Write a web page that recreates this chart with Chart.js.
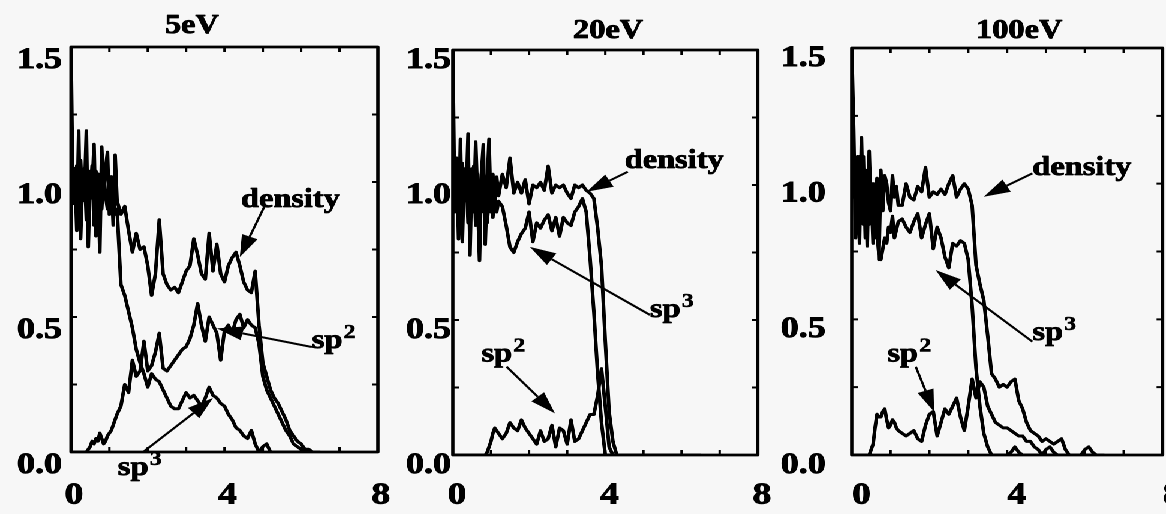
<!DOCTYPE html>
<html><head><meta charset="utf-8">
<script src="https://cdn.jsdelivr.net/npm/chart.js@4.4.1/dist/chart.umd.min.js"></script>
<style>
html,body{margin:0;padding:0;background:#f7f7f7;overflow:hidden;width:1166px;height:514px;}
#wrap{position:absolute;left:0;top:0;width:972px;height:514px;transform:scaleX(1.19959);transform-origin:0 0;}
#wrap canvas{position:absolute;left:0;top:0;}
</style></head><body>
<div id="wrap">
<canvas id="c1" width="972" height="514"></canvas>
<canvas id="c2" width="972" height="514"></canvas>
<canvas id="c3" width="972" height="514"></canvas>
</div>
<script>
// ---- data ----
const xValues = [0,0.05,0.1,0.15,0.2,0.25,0.3,0.35,0.4,0.45,0.5,0.55,0.6,0.65,0.7,0.75,0.8,0.85,0.9,0.95,1.0,1.05,1.1,1.15,1.2,
  1.3,1.4,1.5,1.6,1.7,1.8,1.9,2.0,2.1,2.2,2.3,2.4,2.5,2.6,2.7,2.8,2.9,3.0,3.1,3.2,3.3,3.4,3.5,3.6,3.7,3.8,3.9,
  4.0,4.1,4.2,4.3,4.4,4.5,4.6,4.7,4.8,4.9,5.0,5.1,5.2,5.3,5.4,5.5,5.6,5.7,5.8,5.9,6.0,6.1,6.2,6.3,6.4,6.5];

const titles = ['5eV','20eV','100eV'];
const xTickLabels = ['0','4','8'];
const yTickLabels = ['0.0','0.5','1.0','1.5'];

// 5 eV
const density5 = [1.5,0.92,1.05,0.82,1.19,0.79,1.02,0.95,1.19,0.76,1.04,0.97,1.14,0.80,1.03,0.74,1.13,0.95,1.05,1.11,0.88,1.02,0.84,1.10,0.93,
  0.88,0.91,0.82,0.74,0.81,0.75,0.76, 0.69,0.58,0.66,0.86,0.66,0.62,0.60,0.61,0.59,0.63,
  0.67,0.69,0.79,0.73,0.66,0.64,0.81,0.67,0.77,0.66, 0.63,0.69,0.72,0.74,0.69,0.63,0.60,0.59,0.67,0.47,
  0.33,0.28,0.23,0.20,0.18,0.15,0.12,0.08,0.06,0.04, 0.03,0.01,0.01,0,0,0];
const sp2_5 = [0,0,0,0,0,0,0,0,0,0.01,0.02,0.04,0.03,0.05,0.04,0.07,0.05,0.03,0.04,0.06,0.07,0.08,0.10,0.12,0.14,
  0.17,0.25,0.22,0.34,0.28,0.30,0.41, 0.30,0.32,0.37,0.44,0.31,0.30,0.32,0.34,0.36,0.38,
  0.39,0.42,0.47,0.55,0.47,0.41,0.50,0.47,0.44,0.34, 0.45,0.47,0.44,0.49,0.51,0.46,0.49,0.47,0.46,0.40,
  0.28,0.23,0.20,0.17,0.14,0.11,0.08,0.06,0.03,0.02, 0.01,0,0,0,0,0];
const sp3_5 = [1.05,1.0,0.97,1.06,0.88,1.08,0.93,1.05,0.86,1.01,0.94,1.06,0.84,1.04,0.92,1.0,0.9,1.03,0.95,0.9,1.0,0.9,0.96,0.88,0.9,
  0.62,0.58,0.52,0.46,0.38,0.33,0.29, 0.24,0.29,0.27,0.26,0.23,0.20,0.17,0.16,0.16,0.19,
  0.22,0.20,0.21,0.19,0.17,0.20,0.24,0.21,0.20,0.18, 0.17,0.14,0.12,0.09,0.08,0.06,0.05,0.08,0.03,0,
  0.02,0.03,0,0,0,0,0,0,0,0, 0,0,0,0,0,0];

// 20 eV
const density20 = [1.5,0.9,1.1,0.8,1.17,0.79,1.06,0.95,1.19,0.74,1.06,0.9,1.16,0.95,0.72,1.04,1.15,0.78,1.0,1.17,0.9,1.04,0.93,1.03,0.96,
  1.04,0.99,1.10,0.97,1.01,0.97,1.02, 0.93,1.0,0.99,1.01,0.98,1.07,0.97,1.0,0.99,1.0,
  0.97,0.95,1.0,0.99,1.0,0.98,0.97,0.95,0.84,0.70, 0.42,0.16,0.05,0,0,0,0,0,0,0,
  0,0,0,0,0,0,0,0,0,0, 0,0,0,0,0,0];
const sp2_20 = [0,0,0,0,0,0,0,0,0,0,0,0,0,0,0,0,0,0,0.01,0.03,0.05,0.08,0.10,0.09,0.08,
  0.06,0.08,0.12,0.10,0.09,0.13,0.10, 0.08,0.06,0.04,0.09,0.05,0.06,0.11,0.03,0.10,0.09,
  0.04,0.13,0.05,0.06,0.09,0.12,0.15,0.15,0.22,0.32, 0.18,0.03,0,0,0,0,0,0,0,0,
  0,0,0,0,0,0,0,0,0,0, 0,0,0,0,0,0];
const sp3_20 = [1.05,1.0,0.95,1.05,0.88,1.08,0.94,1.05,0.86,1.0,0.93,1.07,0.85,1.04,0.95,0.9,0.98,1.03,0.86,0.95,1.0,0.88,0.97,0.9,0.94,
  0.92,0.85,0.77,0.75,0.79,0.82,0.84, 0.90,0.79,0.86,0.84,0.87,0.89,0.83,0.88,0.81,0.88,
  0.86,0.85,0.90,0.92,0.95,0.90,0.73,0.53,0.30,0.12, 0,0,0,0,0,0,0,0,0,0,
  0,0,0,0,0,0,0,0,0,0, 0,0,0,0,0,0];

// 100 eV
const density100 = [1.5,1.2,0.8,1.1,0.78,1.17,0.85,1.05,0.77,1.12,0.88,1.0,0.8,1.02,0.72,1.05,0.9,1.03,1.0,0.93,0.9,1.03,0.95,0.99,0.92,
  0.92,1.0,0.95,0.94,0.99,0.97,1.06, 0.95,0.97,0.96,0.98,0.96,1.0,1.03,0.95,0.98,1.0,
  0.98,0.92,0.70,0.63,0.57,0.44,0.30,0.28,0.25,0.26, 0.25,0.27,0.28,0.20,0.17,0.12,0.09,0.08,0.07,0.05,
  0.06,0.05,0.04,0.05,0.06,0.02,0,0,0,0, 0,0,0,0,0,0];
const sp2_100 = [0,0,0,0,0,0,0,0,0,0,0.02,0.04,0.10,0.15,0.14,0.14,0.16,0.17,0.13,0.10,0.11,0.13,0.12,0.10,0.09,
  0.08,0.07,0.08,0.09,0.06,0.05,0.11, 0.15,0.16,0.07,0.12,0.17,0.15,0.18,0.21,0.14,0.09,
  0.18,0.28,0.21,0.27,0.25,0.18,0.15,0.12,0.11,0.10, 0.10,0.09,0.08,0.07,0.07,0.05,0.05,0.03,0.02,0,
  0.02,0.03,0.01,0,0,0,0,0,0,0, 0.02,0.03,0.01,0,0,0];
const sp3_100 = [1.1,0.95,1.05,0.85,1.1,0.9,1.1,0.8,1.0,0.85,0.98,0.78,0.95,0.82,0.74,0.72,0.76,0.8,0.78,0.84,0.82,0.88,0.8,0.83,0.86,
  0.87,0.84,0.82,0.86,0.89,0.80,0.85, 0.89,0.76,0.84,0.80,0.73,0.69,0.78,0.77,0.79,0.78,
  0.72,0.55,0.32,0.18,0.08,0.03,0,0,0,0, 0,0.01,0.03,0.01,0,0,0,0,0,0,
  0,0,0,0,0,0,0,0,0,0, 0,0,0,0,0,0];

// ---- rendering ----
const FONT = "'Liberation Serif','Times New Roman',serif";

function boldText(ctx, s, x, y, sw) {
  ctx.lineWidth = sw;
  ctx.strokeText(s, x, y);
  ctx.fillText(s, x, y);
}

const decorPlugin = {
  id: 'decor',
  afterDraw(chart, args, opts) {
    const ctx = chart.ctx, a = chart.chartArea, xs = chart.scales.x, ys = chart.scales.y;
    ctx.save();
    ctx.strokeStyle = '#000'; ctx.fillStyle = '#000';
    ctx.lineJoin = 'round';
    const tl = 5;
    ctx.lineWidth = 2;
    ctx.beginPath();
    xs.ticks.forEach(t => { const p = xs.getPixelForValue(t.value);
      ctx.moveTo(p, a.bottom); ctx.lineTo(p, a.bottom - tl); ctx.moveTo(p, a.top); ctx.lineTo(p, a.top + tl); });
    ys.ticks.forEach(t => { const p = ys.getPixelForValue(t.value);
      ctx.moveTo(a.left, p); ctx.lineTo(a.left + tl, p); ctx.moveTo(a.right, p); ctx.lineTo(a.right - tl, p); });
    ctx.stroke();
    ctx.lineWidth = 2.8;
    ctx.strokeRect(a.left, a.top, a.right - a.left, a.bottom - a.top);
    // title
    ctx.font = 'bold 27px ' + FONT;
    ctx.textAlign = 'center'; ctx.textBaseline = 'alphabetic';
    boldText(ctx, opts.title, xs.getPixelForValue(opts.titleX), a.top - opts.titleGap, 0.8);
    // labels
    ctx.textAlign = 'left';
    opts.labels.forEach(l => {
      const px = xs.getPixelForValue(l.x), py = ys.getPixelForValue(l.y);
      ctx.font = 'bold 27px ' + FONT;
      boldText(ctx, l.text, px, py, 0.8);
      if (l.sup) {
        const w = ctx.measureText(l.text).width;
        ctx.font = 'bold 20px ' + FONT;
        boldText(ctx, l.sup, px + w + 1, py - 10, 0.6);
      }
    });
    // arrows
    opts.arrows.forEach(ar => {
      const x0 = xs.getPixelForValue(ar.from[0]), y0 = ys.getPixelForValue(ar.from[1]);
      const x1 = xs.getPixelForValue(ar.to[0]), y1 = ys.getPixelForValue(ar.to[1]);
      const ang = Math.atan2(y1 - y0, x1 - x0);
      const L = 22, W = 7;
      const bx = x1 - L * Math.cos(ang), by = y1 - L * Math.sin(ang);
      ctx.lineWidth = 2;
      ctx.beginPath(); ctx.moveTo(x0, y0); ctx.lineTo(bx, by); ctx.stroke();
      ctx.beginPath(); ctx.moveTo(x1, y1);
      ctx.lineTo(bx + W * Math.sin(ang), by - W * Math.cos(ang));
      ctx.lineTo(bx - W * Math.sin(ang), by + W * Math.cos(ang));
      ctx.closePath(); ctx.fill();
    });
    ctx.restore();
  }
};

function makeChart(id, series, cfg) {
  const names = ['density', 'sp2', 'sp3'];
  return new Chart(document.getElementById(id), {
    type: 'line',
    data: {
      datasets: series.map((arr, k) => ({
        label: names[k],
        data: arr.map((v, i) => ({x: xValues[i], y: v})),
        borderColor: '#000', borderWidth: 3, pointRadius: 0, fill: false, tension: 0,
        borderJoinStyle: 'round'
      }))
    },
    options: {
      responsive: false, animation: false, devicePixelRatio: 2,
      layout: {padding: cfg.padding},
      plugins: {legend: {display: false}, tooltip: {enabled: false}, title: {display: false}, decor: cfg.decor},
      scales: {
        x: {
          type: 'linear', min: 0, max: 8,
          grid: {display: false, drawTicks: false}, border: {display: false},
          ticks: {stepSize: 1, autoSkip: false, maxRotation: 0, padding: cfg.xPad, labelOffset: cfg.xOff,
            color: '#000', textStrokeColor: '#000', textStrokeWidth: 0.9,
            font: {family: FONT, weight: 'bold', size: 31},
            callback: v => xTickLabels.includes(String(v)) ? String(v) : ''},
          afterFit: s => { s.height = cfg.xHeight; s.paddingLeft = 0; s.paddingRight = 0; }
        },
        y: {
          type: 'linear', min: 0, max: 1.5,
          grid: {display: false, drawTicks: false}, border: {display: false},
          ticks: {stepSize: 0.25, autoSkip: false, padding: cfg.yPad, labelOffset: cfg.yOff,
            color: '#000', textStrokeColor: '#000', textStrokeWidth: 0.9,
            font: {family: FONT, weight: 'bold', size: 30},
            callback: v => { const s = Number(v).toFixed(1); return yTickLabels.includes(s) ? s : ''; }},
          afterFit: s => { s.width = cfg.yWidth; s.paddingTop = 0; s.paddingBottom = 0; }
        }
      }
    },
    plugins: [decorPlugin]
  });
}

makeChart('c1', [density5, sp2_5, sp3_5], {
  padding: {left: 0, right: 657, top: 47, bottom: 0}, yWidth: 59.17, xHeight: 62,
  xPad: 25, xOff: 2.5, yPad: 7.5, yOff: 13,
  decor: {
    title: titles[0], titleX: 3.15, titleGap: 14,
    labels: [{text: 'density', x: 4.43, y: 0.907}, {text: 'sp', sup: '2', x: 6.28, y: 0.385}, {text: 'sp', sup: '3', x: 1.22, y: -0.085}],
    arrows: [{from: [5.06, 0.915], to: [4.40, 0.722]}, {from: [6.28, 0.389], to: [3.80, 0.458]}, {from: [1.88, 0.0], to: [3.70, 0.2]}]
  }
});
makeChart('c2', [density20, sp2_20, sp3_20], {
  padding: {left: 277.5, right: 340.33, top: 50, bottom: 0}, yWidth: 100, xHeight: 59,
  xPad: 22, xOff: 3.5, yPad: 1.5, yOff: 10,
  decor: {
    title: titles[1], titleX: 4.07, titleGap: 12,
    labels: [{text: 'density', x: 4.51, y: 1.063}, {text: 'sp', sup: '3', x: 5.17, y: 0.511}, {text: 'sp', sup: '2', x: 0.75, y: 0.346}],
    arrows: [{from: [4.59, 1.049], to: [3.51, 0.975]}, {from: [5.17, 0.519], to: [2.02, 0.771]}, {from: [1.41, 0.327], to: [2.68, 0.154]}]
  }
});
makeChart('c3', [density100, sp2_100, sp3_100], {
  padding: {left: 610, right: 2.83, top: 48, bottom: 0}, yWidth: 100, xHeight: 59,
  xPad: 22, xOff: 8, yPad: 21.7, yOff: 10,
  decor: {
    title: titles[2], titleX: 4.31, titleGap: 10,
    labels: [{text: 'density', x: 4.65, y: 1.032}, {text: 'sp', sup: '3', x: 4.65, y: 0.424}, {text: 'sp', sup: '2', x: 0.92, y: 0.344}],
    arrows: [{from: [4.65, 1.038], to: [3.40, 0.952]}, {from: [4.65, 0.418], to: [2.16, 0.682]}, {from: [1.65, 0.325], to: [2.12, 0.16]}]
  }
});
</script>
</body></html>
